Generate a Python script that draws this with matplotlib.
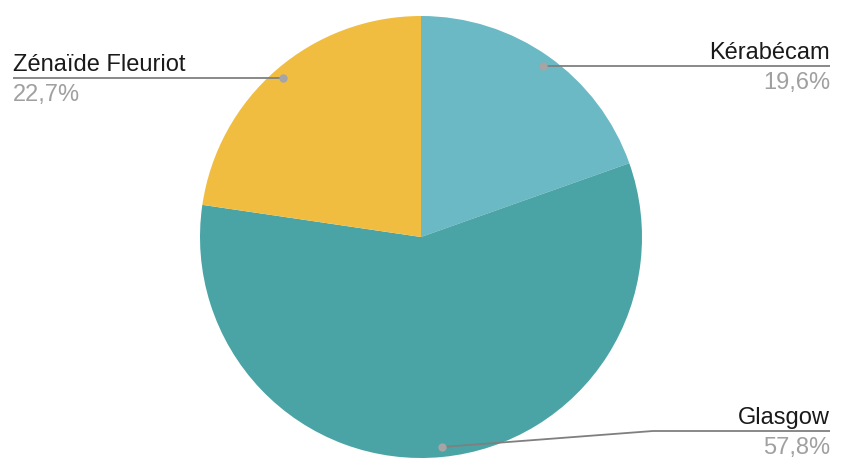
import numpy as np
import matplotlib.pyplot as plt

# data
labels = ["Kérabécam", "Glasgow", "Zénaïde Fleuriot"]
shares = [19.6, 57.8, 22.7]
pct_text = ["19,6%", "57,8%", "22,7%"]
colors = ["#6AB9C4", "#4AA4A5", "#F1BD41"]

W, H = 850, 474
CX, CY, R = 421, 237, 221

plt.rcParams["font.family"] = ["Liberation Sans", "DejaVu Sans"]

fig = plt.figure(figsize=(W / 100, H / 100), dpi=100)
ax = fig.add_axes([0, 0, 1, 1])
wedges, _ = ax.pie(shares, colors=colors, startangle=90, counterclock=False,
                   center=(CX, CY), radius=R,
                   wedgeprops=dict(linewidth=0))
ax.set_xlim(0, W)
ax.set_ylim(0, H)
ax.set_aspect("equal")
ax.axis("off")

# label layout: (side, line y in px from top, elbow x or None)
layout = {
    "Kérabécam": ("right", 66, None),
    "Glasgow": ("right", 431, 653),
    "Zénaïde Fleuriot": ("left", 78, None),
}
line_col = "#7F7F7F"
dot_col = "#A5A5A5"

for w, name, pct in zip(wedges, labels, pct_text):
    mid = np.deg2rad((w.theta1 + w.theta2) / 2)
    dx = CX + 0.955 * R * np.cos(mid)
    dy = CY + 0.955 * R * np.sin(mid)
    side, ly, elbow = layout[name]
    ly = H - ly
    if side == "right":
        xe = 830
        xs = [dx, elbow, xe] if elbow else [dx, xe]
        ys = [dy, ly, ly] if elbow else [ly, ly]
        ha = "right"
    else:
        xe = 13
        xs = [dx, xe]
        ys = [ly, ly]
        ha = "left"
    ax.plot(xs, ys, color=line_col, lw=1.3, solid_capstyle="butt", zorder=3)
    ax.plot([dx], [dy if elbow else ly], "o", color=dot_col, ms=6, mec="none", zorder=4)
    ax.text(xe, ly + 7, name, ha=ha, va="baseline", fontsize=17, color="#1A1A1A")
    ax.text(xe, ly - 23, pct, ha=ha, va="baseline", fontsize=17, color="#A0A0A0")

fig.savefig("out.png", dpi=100)
